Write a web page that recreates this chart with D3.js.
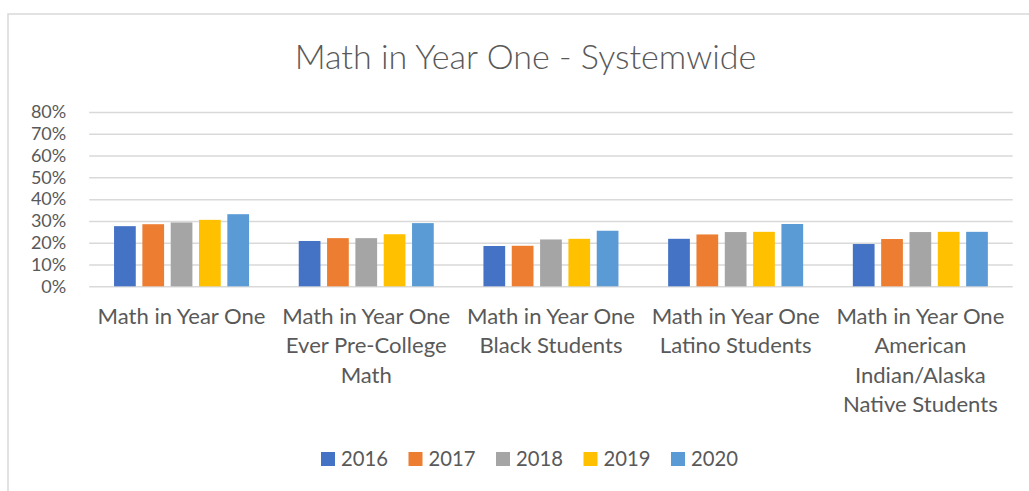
<!DOCTYPE html>
<html>
<head>
<meta charset="utf-8">
<script src="https://cdn.jsdelivr.net/npm/d3@7"></script>
<style>
  body { margin: 0; background: #fff; }
  text { font-family: Lato, "Open Sans", sans-serif; fill: #595959; }
</style>
</head>
<body>
<svg id="chart" width="1029" height="491"></svg>
<script>
// data
const categories = [
    ['Math in Year One'],
    ['Math in Year One', 'Ever Pre-College', 'Math'],
    ['Math in Year One', 'Black Students'],
    ['Math in Year One', 'Latino Students'],
    ['Math in Year One', 'American', 'Indian/Alaska', 'Native Students'],
];
const years = ['2016', '2017', '2018', '2019', '2020'];
const v2016 = [0.276, 0.208, 0.185, 0.218, 0.194];
const v2017 = [0.285, 0.221, 0.186, 0.238, 0.217];
const v2018 = [0.293, 0.221, 0.215, 0.249, 0.249];
const v2019 = [0.305, 0.239, 0.218, 0.25, 0.25];
const v2020 = [0.331, 0.29, 0.255, 0.286, 0.25];
const yTicks = [0, 0.1, 0.2, 0.3, 0.4, 0.5, 0.6, 0.7, 0.8];
const colors = ['#4472C4', '#ED7D31', '#A5A5A5', '#FFC000', '#5B9BD5'];

const series = [v2016, v2017, v2018, v2019, v2020];

const svg = d3.select('#chart');

// font size that makes a sample string a given width
function fitSize(sample, target) {
    const t = svg.append('text').attr('font-size', 100).text(sample);
    const w = t.node().getComputedTextLength();
    t.remove();
    return (100 * target) / w;
}
const titleSize = fitSize('Math in Year One - Systemwide', 469);
const tickSize = Math.min(fitSize('80%', 41), 18);
const catSize = fitSize('Math in Year One', 168);
const legSize = fitSize('2016', 47);

// chart border
svg.append('rect')
    .attr('x', 8)
    .attr('y', 14)
    .attr('width', 1060)
    .attr('height', 500)
    .attr('fill', 'none')
    .attr('stroke', '#d9d9d9')
    .attr('stroke-width', 1.5);

const margin = { top: 112, left: 89.2, right: 1012.7, bottom: 286.3 };

const x0 = d3
    .scaleBand()
    .domain(d3.range(categories.length))
    .range([margin.left, margin.right])
    .paddingInner(0.269)
    .paddingOuter(0.1345);

const x1 = d3
    .scaleBand()
    .domain(years)
    .range([0, x0.bandwidth()])
    .paddingInner(0.233);

const y = d3.scaleLinear().domain([0, 0.8]).range([margin.bottom, margin.top]);

svg.append('text')
    .attr('x', 525.5)
    .attr('y', 69)
    .attr('text-anchor', 'middle')
    .attr('font-size', titleSize)
    .attr('font-weight', 300)
    .text('Math in Year One - Systemwide');

// y axis + gridlines
const yAxis = svg
    .append('g')
    .attr('transform', `translate(${margin.left},0)`)
    .call(
        d3
            .axisLeft(y)
            .tickValues(yTicks)
            .tickFormat(d3.format('.0%'))
            .tickSize(-(margin.right - margin.left))
            .tickPadding(23)
    );
yAxis.select('.domain').remove();
yAxis.selectAll('line').attr('stroke', '#d9d9d9').attr('stroke-width', 1.5);
yAxis.selectAll('text')
    .attr('font-size', tickSize)
    .attr('fill', '#595959')
    .style('font-family', 'Lato, "Open Sans", sans-serif');

// bars
const groups = svg
    .selectAll('.group')
    .data(categories)
    .enter()
    .append('g')
    .attr('class', 'group')
    .attr('transform', (d, i) => `translate(${x0(i)},0)`);

groups
    .selectAll('rect')
    .data((d, i) => years.map((yr, k) => ({ year: yr, value: series[k][i], k })))
    .enter()
    .append('rect')
    .attr('x', (d) => x1(d.year))
    .attr('y', (d) => y(d.value))
    .attr('width', x1.bandwidth())
    .attr('height', (d) => y(0) - y(d.value))
    .attr('fill', (d) => colors[d.k]);

// category labels
const catLabels = svg
    .selectAll('.cat')
    .data(categories)
    .enter()
    .append('text')
    .attr('class', 'cat')
    .attr('text-anchor', 'middle')
    .attr('font-size', catSize);

catLabels
    .selectAll('tspan')
    .data((d, i) => d.map((line) => ({ line, i })))
    .enter()
    .append('tspan')
    .attr('x', (d) => x0(d.i) + x0.bandwidth() / 2)
    .attr('y', (d, j) => 324 + j * 29.3)
    .text((d) => d.line);

// legend
const step = 87.5;
const legendLeft = 321;
const legend = svg
    .selectAll('.legend')
    .data(years)
    .enter()
    .append('g')
    .attr('class', 'legend')
    .attr('transform', (d, i) => `translate(${legendLeft + i * step},452)`);

legend.append('rect')
    .attr('width', 14)
    .attr('height', 14)
    .attr('fill', (d, i) => colors[i]);

legend.append('text')
    .attr('x', 20)
    .attr('y', 13.5)
    .attr('font-size', legSize)
    .text((d) => d);
</script>
</body>
</html>
